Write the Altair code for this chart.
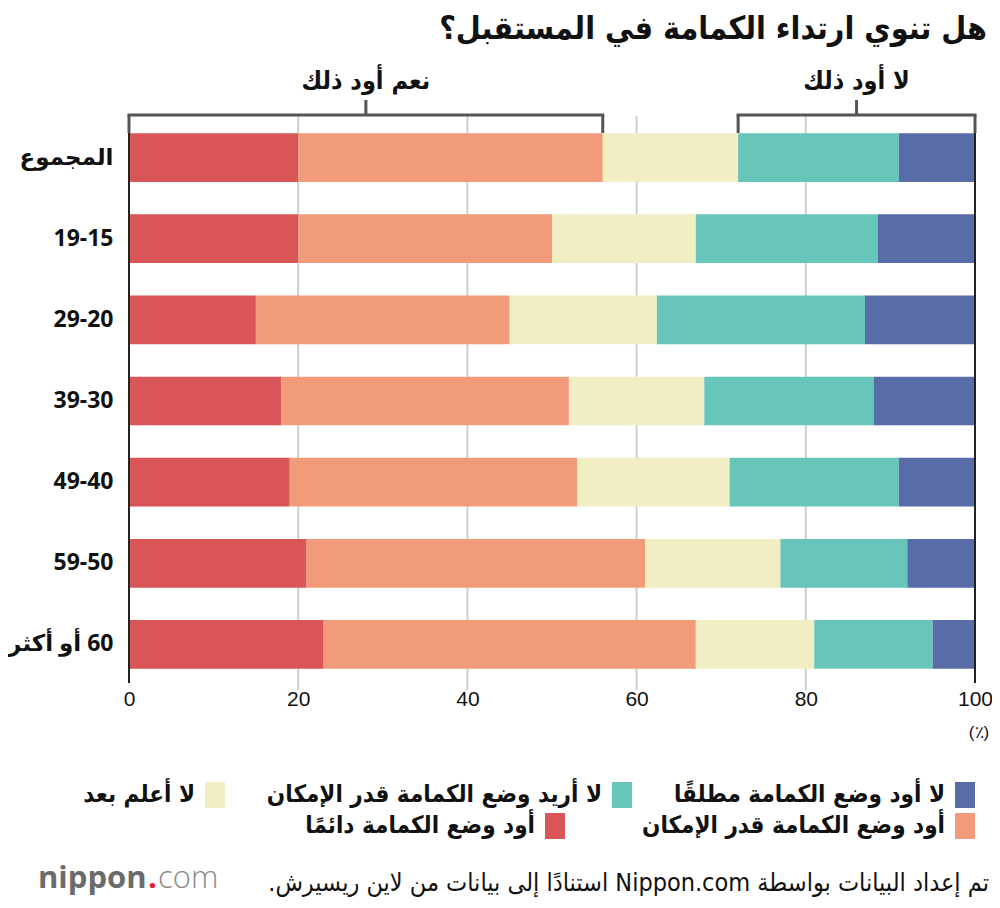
import altair as alt
import pandas as pd

RLE, PDF = "\u202b", "\u202c"


def rtl(s):
    return RLE + s + PDF


# ---------------- data ----------------
title_text = "هل تنوي ارتداء الكمامة في المستقبل؟"
groups = ["المجموع", "19-15", "29-20", "39-30", "49-40", "59-50", "60 أو أكثر"]
series = [
    "أود وضع الكمامة دائمًا",
    "أود وضع الكمامة قدر الإمكان",
    "لا أعلم بعد",
    "لا أريد وضع الكمامة قدر الإمكان",
    "لا أود وضع الكمامة مطلقًا",
]
colors = ["#D95557", "#F29B7B", "#F2EEC4", "#68C5B9", "#586CA8"]

always = [20, 20, 15, 18, 19, 21, 23]
possible = [36, 30, 30, 34, 34, 40, 44]
dont_know = [16, 17, 17.4, 16, 18, 16, 14]
not_want = [19, 21.5, 24.6, 20, 20, 15, 14]
never = [9, 11.5, 13, 12, 9, 8, 5]

x_ticks = [0, 20, 40, 60, 80, 100]
grid_values = [20, 40, 60, 80]
bracket_labels = ["نعم أود ذلك", "لا أود ذلك"]
unit_label = "(٪)"
source_text = "تم إعداد البيانات بواسطة Nippon.com استنادًا إلى بيانات من لاين ريسيرش."

# ---------------- tables ----------------
groups_d = [rtl(g) for g in groups]
series_d = [rtl(s) for s in series]
values = [always, possible, dont_know, not_want, never]

rows = []
for gi, g in enumerate(groups_d):
    start = 0.0
    for si, s in enumerate(series_d):
        v = values[si][gi]
        rows.append({"group": g, "series": s, "start": start, "end": start + v, "value": v})
        start += v
df = pd.DataFrame(rows)

yes_end = always[0] + possible[0]
no_start = 100 - not_want[0] - never[0]
br = pd.DataFrame({
    "label": [rtl(b) for b in bracket_labels],
    "start": [0, no_start],
    "end": [yes_end, 100],
})
br["mid"] = (br["start"] + br["end"]) / 2

xscale = alt.Scale(domain=[0, 100], nice=False, zero=False)
cscale = alt.Scale(domain=series_d, range=colors)

AR_FONT = "DejaVu Sans Condensed, DejaVu Sans, Noto Sans"

grid = alt.Chart(pd.DataFrame({"v": grid_values})).mark_rule(
    color="#cfcfcf", strokeWidth=2
).encode(x=alt.X("v:Q", scale=xscale), y=alt.value(-1), y2=alt.value(573))

bars = alt.Chart(df).mark_bar().encode(
    x=alt.X(
        "start:Q",
        scale=xscale,
        title=None,
        axis=alt.Axis(
            values=x_ticks, domain=False, ticks=False, grid=False,
            labelFont="Liberation Sans Narrow, Liberation Sans", labelFontSize=21,
            labelColor="#111", labelPadding=3, labelFlush=False,
        ),
    ),
    x2="end:Q",
    y=alt.Y(
        "group:N", sort=groups_d, title=None,
        scale=alt.Scale(paddingInner=0.4, paddingOuter=0.2),
        axis=alt.Axis(
            domain=False, ticks=False, labelFont="Noto Sans, DejaVu Sans",
            labelFontSize=23, labelFontWeight="bold", labelColor="#111",
            labelPadding=16,
        ),
    ),
    color=alt.Color("series:N", scale=cscale, legend=None),
)

borders = alt.Chart(pd.DataFrame({"v": [0, 100]})).mark_rule(
    color="#222", strokeWidth=2
).encode(x=alt.X("v:Q"), y=alt.value(-2), y2=alt.value(566))

br_h = alt.Chart(br).mark_rule(color="#555", strokeWidth=3, strokeCap="square").encode(
    x=alt.X("start:Q"), x2="end:Q", y=alt.value(-2)
)
br_hooks = alt.Chart(br).transform_fold(["start", "end"], as_=["k", "pos"]).mark_rule(
    color="#555", strokeWidth=3
).encode(x=alt.X("pos:Q"), y=alt.value(-2), y2=alt.value(16))
br_stem = alt.Chart(br).mark_rule(color="#555", strokeWidth=3).encode(
    x=alt.X("mid:Q"), y=alt.value(-17), y2=alt.value(-2)
)
br_text = alt.Chart(br).mark_text(
    font=AR_FONT, fontSize=25, fontWeight="bold", color="#111", baseline="middle"
).encode(x=alt.X("mid:Q"), y=alt.value(-36), text="label:N")

one = pd.DataFrame({"t": [rtl(title_text)]})
title = alt.Chart(one).mark_text(
    font=AR_FONT, fontSize=32, fontWeight="bold", color="#111", align="right", baseline="middle"
).encode(x=alt.value(858), y=alt.value(-88), text="t:N")

unit = alt.Chart(pd.DataFrame({"t": [unit_label]})).mark_text(
    font="Liberation Sans Narrow, Liberation Sans", fontSize=17, color="#111", baseline="middle"
).encode(x=alt.value(850), y=alt.value(616), text="t:N")

source = alt.Chart(pd.DataFrame({"t": [rtl(source_text)]})).mark_text(
    font=AR_FONT, fontSize=25, color="#111", align="right", baseline="middle"
).encode(x=alt.value(860), y=alt.value(766), text="t:N")

logo_parts = []
for txt, xpos, col, w in [("nippon", -91, "#6b6b6b", "bold"), (".", 19, "#e8202a", "bold"), ("com", 29, "#8a8a8a", 300)]:
    logo_parts.append(
        alt.Chart(pd.DataFrame({"t": [txt]})).mark_text(
            font="Open Sans", fontSize=31, fontWeight=w, color=col, align="left", baseline="middle"
        ).encode(x=alt.value(xpos), y=alt.value(762), text="t:N")
    )

# legend layout (right edge of swatch, row)
legend_layout = {4: (846, 0), 3: (503, 0), 2: (96, 0), 1: (846, 1), 0: (436, 1)}
row_y = [678, 709]
legend_layers = []
for si, (right, r) in legend_layout.items():
    d = pd.DataFrame({"series": [series_d[si]]})
    cy = row_y[r]
    legend_layers.append(
        alt.Chart(d).mark_rect().encode(
            x=alt.value(right - 20), x2=alt.value(right),
            y=alt.value(cy - 13), y2=alt.value(cy + 13),
            color=alt.Color("series:N", scale=cscale, legend=None),
        )
    )
    legend_layers.append(
        alt.Chart(d).mark_text(
            font=AR_FONT, fontSize=24, fontWeight="bold", color="#111", align="right", baseline="middle"
        ).encode(x=alt.value(right - 30), y=alt.value(cy), text="series:N")
    )

chart = alt.layer(
    grid, bars, borders, br_h, br_hooks, br_stem, br_text, title, unit, source,
    *logo_parts, *legend_layers
).properties(
    width=846, height=568,
    autosize=alt.AutoSizeParams(type="none"),
    padding={"left": 121, "top": 109, "right": 17, "bottom": 215},
    background="white",
).configure_view(stroke=None)

chart.save("out.html", embed_options={"renderer": "svg", "actions": False})
